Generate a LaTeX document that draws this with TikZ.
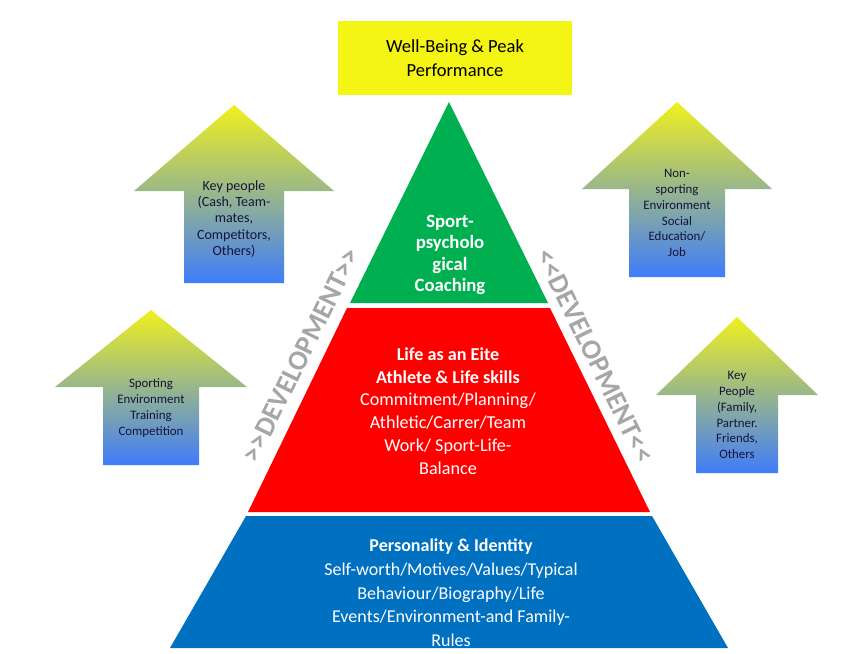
\documentclass[tikz,border=0pt]{standalone}
\usepackage{fontspec}
\setmainfont{Carlito}
\usetikzlibrary{positioning}
\definecolor{peakyellow}{HTML}{F4F415}
\definecolor{coachgreen}{HTML}{00B050}
\definecolor{lifered}{HTML}{FF0000}
\definecolor{identblue}{HTML}{0070C0}
\definecolor{arrowtop}{HTML}{F0F01E}
\definecolor{arrowbottom}{HTML}{3F7CFA}
\definecolor{devgray}{HTML}{A6A6A6}
\definecolor{arrowink}{HTML}{14143A}

% up arrow: centre x, tip y, head base y, bottom y, half head, half shaft
\newcommand{\uparrowblock}[6]{%
  \shade[top color=arrowtop, bottom color=arrowbottom]
    (#1,#2) -- (#1+#5,#3) -- (#1+#6,#3) -- (#1+#6,#4)
    -- (#1-#6,#4) -- (#1-#6,#3) -- (#1-#5,#3) -- cycle;}
% two chevrons, kept apart so they do not join into a guillemet
\newcommand{\devfwd}{>\kern0pt>}
\newcommand{\devback}{<\kern0pt<}

\tikzset{
  arrowtext/.style={align=center, text=arrowink, font=\fontsize{11}{13.6}\selectfont},
  layertext/.style={align=center, text=white},
  devtext/.style={text=devgray, font=\fontsize{24}{28}\selectfont\bfseries}
}

\begin{document}
\begin{tikzpicture}[x=0.03cm, y=-0.03cm]
    \useasboundingbox (0,0) rectangle (852,653);

    % top goal
    \node[fill=peakyellow, minimum width=7.02cm, minimum height=2.22cm, align=center,
          font=\fontsize{15.8}{20.4}\selectfont] (peak) at (455,58)
          {Well-Being \& Peak\\Performance};

    % pyramid layers
    \fill[coachgreen] (449,102) -- (548,303) -- (350,303) -- cycle;
    \fill[lifered] (347,308) -- (550,308) -- (650,512) -- (248,512) -- cycle;
    \fill[identblue] (246,516) -- (652,516) -- (728,648) -- (170,648) -- cycle;

    \node[layertext, font=\fontsize{16}{18.3}\selectfont\bfseries] (coaching) at (450,255)
          {Sport-\\psycholo\\gical\\Coaching};
    \node[layertext, font=\fontsize{15.5}{19.5}\selectfont] (life) at (448,411)
          {\textbf{Life as an Eite}\\\textbf{Athlete \& Life skills}\\Commitment/Planning/\\Athletic/Carrer/Team\\Work/ Sport-Life-\\Balance};
    \node[layertext, font=\fontsize{15.4}{20.2}\selectfont] (identity) at (451,593)
          {\textbf{Personality \& Identity}\\Self-worth/Motives/Values/Typical\\Behaviour/Biography/Life\\Events/Environment-and Family-\\Rules};

    % development labels
    \node[devtext, rotate=63.9] (devleft) at (301,355) {\devfwd DEVELOPMENT\devfwd};
    \node[devtext, rotate=-63.9] (devright) at (595,356) {\devback DEVELOPMENT\devback};

    % influence arrows
    \uparrowblock{234}{105}{191}{283}{100}{50}
    \uparrowblock{677}{102}{189}{277}{95}{48}
    \uparrowblock{151}{310}{387}{465}{96}{48}
    \uparrowblock{737}{317}{395}{473}{81}{41}

    \node[arrowtext, font=\fontsize{12}{13.9}\selectfont] (keycoach) at (234,219)
          {Key people\\(Cash, Team-\\mates,\\Competitors,\\Others)};
    \node[arrowtext] (nonsport) at (677,213) {Non-\\sporting\\Environment\\Social\\Education/\\Job};
    \node[arrowtext] (sporting) at (151,408) {Sporting\\Environment\\Training\\Competition};
    \node[arrowtext] (keyfamily) at (737,415) {Key\\People\\(Family,\\Partner.\\Friends,\\Others};
\end{tikzpicture}
\end{document}
